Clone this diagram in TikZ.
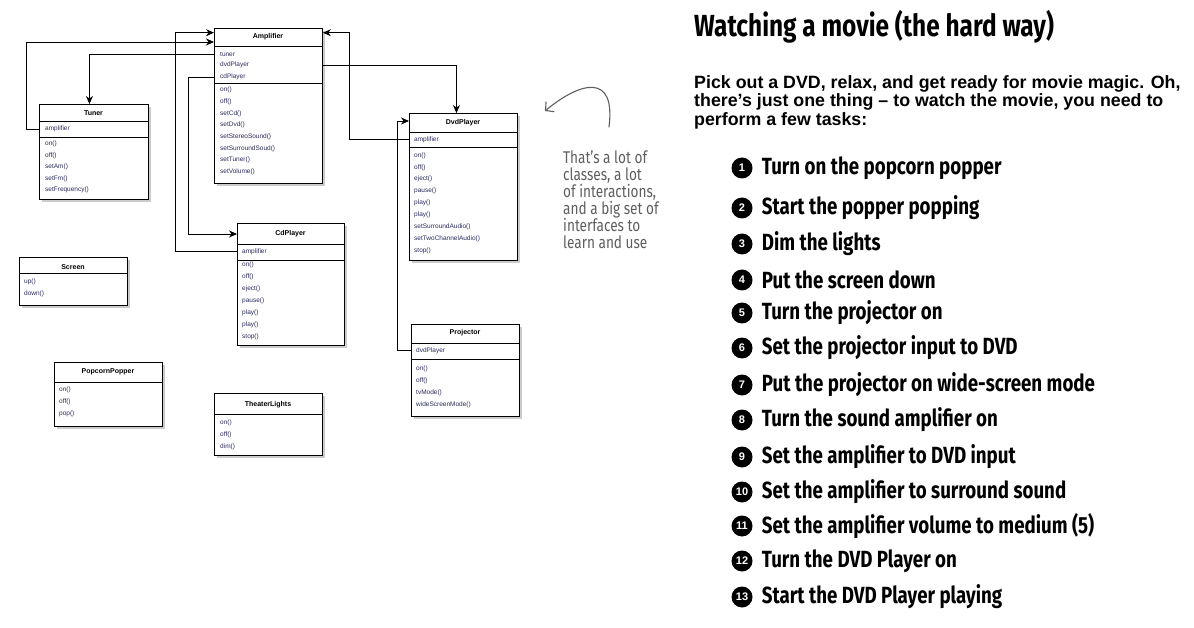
\documentclass[tikz,border=0pt]{standalone}
\usepackage{fontspec}
\setmainfont{Liberation Sans}
\newfontfamily\handfont[FakeStretch=0.8]{Fira Sans}
\usepackage{xcolor}
\usepackage{tikz}
\usetikzlibrary{positioning, arrows.meta, shadows}
\definecolor{membertext}{HTML}{2B2B5E}
\definecolor{notegray}{HTML}{5E5E5E}

\tikzset{
  classbox/.style={draw, line width=0.9pt, fill=white, anchor=north west, inner sep=0pt,
    drop shadow={shadow xshift=3pt, shadow yshift=-3pt, fill=black!40}},
  classname/.style={font=\fontsize{7}{8}\selectfont\bfseries, inner sep=0pt},
  member/.style={font=\fontsize{6.5}{7}\selectfont, text=membertext, anchor=west, inner sep=0pt},
  divider/.style={line width=0.8pt},
  link/.style={line width=0.8pt, -{Stealth[length=8pt, width=7pt]}},
  numdot/.style={circle, fill=black, text=white, inner sep=0pt, minimum size=21pt,
    font=\fontsize{11}{11}\selectfont\bfseries},
  task/.style={font=\handfont\fontsize{23.4}{25}\selectfont\bfseries, inner sep=0pt},
  note/.style={font=\handfont\fontsize{17}{16.7}\selectfont, text=notegray, align=left, inner sep=0pt}
}

\begin{document}
\begin{tikzpicture}[x=1pt, y=-1pt]
  \useasboundingbox (0,0) rectangle (1194,628);

  % Amplifier
  \node[classbox, minimum width=108pt, minimum height=155pt] (amp) at (214,28) {};
  \node[classname] at (268,37) {Amplifier};
  \draw[divider] (214,46) -- (322,46) (214,83) -- (322,83);
  \node[member] (amp-tuner) at (220,54) {tuner};
  \node[member] (amp-dvd) at (220,65) {dvdPlayer};
  \node[member] (amp-cd) at (220,77) {cdPlayer};
  \foreach \m [count=\i from 0] in {on(), off(), setCd(), setDvd(), setStereoSound(),
      setSurroundSoud(), setTuner(), setVolume()}
    \node[member] at (220,{90+11.7*\i}) {\m};

  % Tuner
  \node[classbox, minimum width=109pt, minimum height=95pt] (tuner) at (39,104) {};
  \node[classname] at (93.5,113) {Tuner};
  \draw[divider] (39,121) -- (148,121) (39,137) -- (148,137);
  \node[member] (tuner-amp) at (45,129) {amplifier};
  \foreach \m [count=\i from 0] in {on(), off(), setAm(), setFm(), setFrequency()}
    \node[member] at (45,{144+11.5*\i}) {\m};

  % DvdPlayer
  \node[classbox, minimum width=108pt, minimum height=147pt] (dvd) at (409,113) {};
  \node[classname] at (463,123) {DvdPlayer};
  \draw[divider] (409,132) -- (517,132) (409,147) -- (517,147);
  \node[member] (dvd-amp) at (414,139.5) {amplifier};
  \foreach \m [count=\i from 0] in {on(), off(), eject(), pause(), play(), play(),
      setSurroundAudio(), setTwoChannelAudio(), stop()}
    \node[member] at (414,{155.5+11.9*\i}) {\m};

  % CdPlayer
  \node[classbox, minimum width=107pt, minimum height=122pt] (cd) at (237,223) {};
  \node[classname] at (290.5,234) {CdPlayer};
  \draw[divider] (237,244) -- (344,244) (237,260) -- (344,260);
  \node[member] (cd-amp) at (242,251.5) {amplifier};
  \foreach \m [count=\i from 0] in {on(), off(), eject(), pause(), play(), play(), stop()}
    \node[member] at (242,{265+12*\i}) {\m};

  % Screen
  \node[classbox, minimum width=108pt, minimum height=48pt] (screen) at (19,257) {};
  \node[classname] at (73,267) {Screen};
  \draw[divider] (19,273) -- (127,273);
  \foreach \m [count=\i from 0] in {up(), down()}
    \node[member] at (24,{282+11.5*\i}) {\m};

  % Projector
  \node[classbox, minimum width=108pt, minimum height=92pt] (proj) at (411,324) {};
  \node[classname] at (465,333) {Projector};
  \draw[divider] (411,343) -- (519,343) (411,359) -- (519,359);
  \node[member] (proj-dvd) at (416,350.5) {dvdPlayer};
  \foreach \m [count=\i from 0] in {on(), off(), tvMode(), wideScreenMode()}
    \node[member] at (416,{369+12*\i}) {\m};

  % PopcornPopper
  \node[classbox, minimum width=108pt, minimum height=64pt] (popper) at (54,362) {};
  \node[classname] at (108,372) {PopcornPopper};
  \draw[divider] (54,382) -- (162,382);
  \foreach \m [count=\i from 0] in {on(), off(), pop()}
    \node[member] at (59,{390+12*\i}) {\m};

  % TheaterLights
  \node[classbox, minimum width=108pt, minimum height=62pt] (lights) at (214,393) {};
  \node[classname] at (268,405) {TheaterLights};
  \draw[divider] (214,414) -- (322,414);
  \foreach \m [count=\i from 0] in {on(), off(), dim()}
    \node[member] at (220,{423+12*\i}) {\m};

  % associations
  \draw[link] (tuner.west |- tuner-amp) -- ++(-13,0) |- ([yshift=-14pt]amp.north west);
  \draw[link] (amp.west |- amp-tuner) -| ([xshift=-4.5pt]tuner.north);
  \draw[link] (cd.west |- cd-amp) -- ++(-62,0) |- ([yshift=-4.7pt]amp.north west);
  \draw[link] (amp.west |- amp-cd) -- ++(-26,0) |- ([yshift=-11pt]cd.north west);
  \draw[link] (amp.east |- amp-dvd) -| ([xshift=-7pt]dvd.north);
  \draw[link] (dvd.west |- dvd-amp) -- ++(-60,0) |- ([yshift=-4.7pt]amp.north east);
  \draw[link] (proj.west |- proj-dvd) -- ++(-14,0) |- ([yshift=-8pt]dvd.north west);

  % hand-written remark
  \coordinate (curl-start) at (609,127);
  \coordinate (curl-end) at (545,111);
  \draw[notegray, line width=1.1pt, line cap=round, -{Straight Barb[length=6pt, width=13pt]}]
    (curl-start) .. controls (616,72) and (580,82) .. (curl-end);
  \node[note, anchor=north west] (remark) at (563,151) {That’s a lot of\\classes, a lot\\of interactions,\\and a big set of\\interfaces to\\learn and use};

  % right column
  \node[anchor=west, inner sep=0pt, font=\handfont\fontsize{30.5}{32}\selectfont\bfseries] (title) at (694,27)
    {Watching a movie (the hard way)};
  \node[anchor=north west, inner sep=0pt, align=left,
        font=\fontsize{17.8}{18.6}\selectfont\bfseries] (intro) at (694,75)
    {Pick out a DVD, relax, and get ready for movie magic. Oh,\\
     there’s just one thing -- to watch the movie, you need to\\
     perform a few tasks:};

  \foreach \y/\t [count=\i] in {168/Turn on the popcorn popper, 208/Start the popper popping,
      244/Dim the lights, 280/Put the screen down, 313/Turn the projector on,
      348/Set the projector input to DVD, 385/Put the projector on wide-screen mode,
      420/Turn the sound amplifier on, 457/Set the amplifier to DVD input,
      492/Set the amplifier to surround sound, 526/Set the amplifier volume to medium (5),
      561/Turn the DVD Player on, 597/Start the DVD Player playing}
  {
    \node[numdot] (num\i) at (742,\y) {\i};
    \node[task, right=9pt of num\i] (task\i) {\t};
  }
\end{tikzpicture}
\end{document}
